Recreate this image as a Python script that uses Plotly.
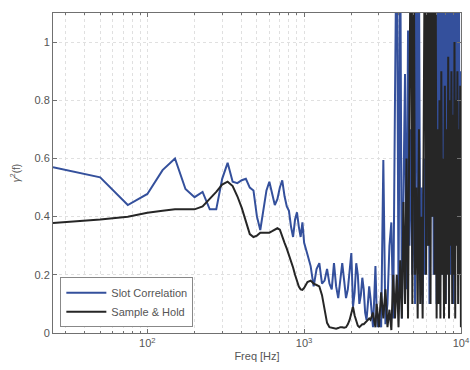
import plotly.graph_objects as go

# Frequency grids (Hz)
freq_low = list(range(25, 1001, 25))
freq_mid = list(range(1050, 2951, 50))
freq_high = list(range(3000, 10001, 100))
freq = freq_low + freq_mid + freq_high

# Slot Correlation coherence
slot_low = [0.57, 0.535, 0.44, 0.478, 0.56, 0.60, 0.495, 0.467, 0.485, 0.425,
            0.425, 0.53, 0.585, 0.52, 0.515, 0.525, 0.53, 0.50, 0.49, 0.40,
            0.354, 0.43, 0.49, 0.52, 0.48, 0.44, 0.46, 0.50, 0.525, 0.47,
            0.435, 0.42, 0.365, 0.33, 0.39, 0.415, 0.365, 0.33, 0.38, 0.31]
slot_mid = [0.27, 0.23, 0.16, 0.22, 0.24, 0.17, 0.18, 0.22, 0.17, 0.15,
            0.24, 0.16, 0.12, 0.19, 0.24, 0.18, 0.12, 0.15, 0.22, 0.275,
            0.09, 0.14, 0.24, 0.20, 0.10, 0.13, 0.19, 0.15, 0.07, 0.045,
            0.10, 0.16, 0.12, 0.06, 0.02, 0.12, 0.23, 0.08, 0.02]
slot_high = [0.05, 0.02, 0.595, 0.03, 0.10, 0.30, 0.38, 0.05, 0.82, 1.5,
             0.10, 1.4, 0.05, 0.55, 0.89, 0.15, 1.04, 0.3, 0.7, 0.2,
             0.6, 0.1, 1.5, 0.4, 1.3, 0.2, 0.5, 0.1, 0.6, 0.2,
             0.8, 0.3, 1.2, 0.1, 0.9, 0.4, 1.3, 0.2, 0.7, 1.4,
             0.1, 1.5, 0.3, 1.4, 0.5, 1.6, 0.2, 1.3, 0.6, 1.5,
             0.1, 1.4, 0.4, 1.6, 0.3, 1.5, 0.2, 1.3, 0.5, 1.5,
             0.1, 1.4, 0.3, 1.6, 0.4, 1.2, 0.2, 1.5, 0.3, 0.9, 0.3]
slot = slot_low + slot_mid + slot_high

# Sample & Hold coherence
hold_low = [0.378, 0.39, 0.40, 0.413, 0.42, 0.425, 0.425, 0.425, 0.435, 0.46,
            0.485, 0.51, 0.52, 0.505, 0.47, 0.43, 0.38, 0.34, 0.33, 0.335,
            0.345, 0.345, 0.345, 0.345, 0.35, 0.355, 0.36, 0.355, 0.335, 0.31,
            0.29, 0.27, 0.25, 0.225, 0.20, 0.175, 0.16, 0.15, 0.148, 0.155]
hold_mid = [0.175, 0.18, 0.17, 0.165, 0.16, 0.13, 0.08, 0.035, 0.02, 0.018,
            0.015, 0.015, 0.017, 0.02, 0.02, 0.018, 0.02, 0.03, 0.045, 0.07,
            0.09, 0.06, 0.04, 0.025, 0.02, 0.025, 0.03, 0.03, 0.035, 0.04,
            0.045, 0.05, 0.045, 0.06, 0.07, 0.04, 0.02, 0.10, 0.05]
hold_high = [0.02, 0.14, 0.05, 0.15, 0.02, 0.08, 0.01, 0.2, 0.05, 0.2,
             0.02, 0.25, 0.05, 0.45, 0.1, 0.6, 0.05, 0.8, 1.5, 0.1,
             1.4, 0.2, 0.5, 0.05, 0.7, 0.1, 0.4, 0.05, 0.9, 1.5,
             0.2, 1.6, 0.3, 1.5, 0.1, 1.4, 0.4, 1.5, 0.2, 1.3,
             0.05, 0.7, 0.1, 0.8, 0.05, 0.9, 0.2, 0.6, 0.05, 0.85,
             0.1, 0.7, 0.2, 0.95, 0.05, 0.8, 0.3, 0.9, 0.1, 0.75,
             0.2, 1.0, 0.05, 0.8, 0.3, 0.9, 0.1, 0.7, 0.2, 0.85, 0.02]
hold = hold_low + hold_mid + hold_high

x_ticks = [100, 1000, 10000]
x_tick_labels = ["10<sup>2</sup>", "10<sup>3</sup>", "10<sup>4</sup>"]
x_minor_ticks = [30, 40, 50, 60, 70, 80, 90,
                 200, 300, 400, 500, 600, 700, 800, 900,
                 2000, 3000, 4000, 5000, 6000, 7000, 8000, 9000]
y_ticks = [0, 0.2, 0.4, 0.6, 0.8, 1]
y_tick_labels = ["0", "0.2", "0.4", "0.6", "0.8", "1"]

BLUE = "#34509c"
BLACK = "#262626"
AX = "#707070"
TXT = "#555555"
GRID = "#e0e0e0"

fig = go.Figure()
fig.add_trace(go.Scatter(x=freq, y=slot, mode="lines", name="Slot Correlation",
                         line=dict(color=BLUE, width=2)))
fig.add_trace(go.Scatter(x=freq, y=hold, mode="lines", name="Sample & Hold",
                         line=dict(color=BLACK, width=2)))

fig.update_layout(
    width=470, height=370,
    margin=dict(l=53, r=9, t=13, b=37, autoexpand=False),
    paper_bgcolor="white", plot_bgcolor="white",
    font=dict(family="Liberation Sans, Arial, sans-serif", size=11, color=TXT),
    showlegend=True,
    legend=dict(x=0.018, y=0.018, xanchor="left", yanchor="bottom",
                bgcolor="white", bordercolor="#888888", borderwidth=1,
                font=dict(size=11, color=TXT), tracegroupgap=0,
                itemwidth=40),
)
fig.update_xaxes(
    type="log", range=[1.398, 4.0006], automargin=False,
    tickvals=x_ticks, ticktext=x_tick_labels,
    ticks="inside", ticklen=4, tickcolor=AX,
    showline=True, linecolor=AX, linewidth=1, mirror="ticks",
    showgrid=True, gridcolor=GRID, griddash="dot", gridwidth=1,
    minor=dict(tickvals=x_minor_ticks, ticks="inside", ticklen=2, tickcolor=AX,
               showgrid=True, gridcolor=GRID, griddash="dot"),
    zeroline=False,
    title=dict(text="Freq [Hz]", standoff=4, font=dict(size=11, color=TXT)),
    tickfont=dict(size=11, color=TXT),
)
fig.update_yaxes(
    range=[0, 1.1], tickvals=y_ticks, ticktext=y_tick_labels, automargin=False,
    ticks="inside", ticklen=4, tickcolor=AX,
    showline=True, linecolor=AX, linewidth=1, mirror="ticks",
    showgrid=True, gridcolor=GRID, griddash="dot", gridwidth=1,
    zeroline=False,
    title=dict(text="<i>γ</i><sup>2</sup>(f)", standoff=12, font=dict(size=10, color=TXT)),
    tickfont=dict(size=11, color=TXT),
)

fig.write_html("out.html")
